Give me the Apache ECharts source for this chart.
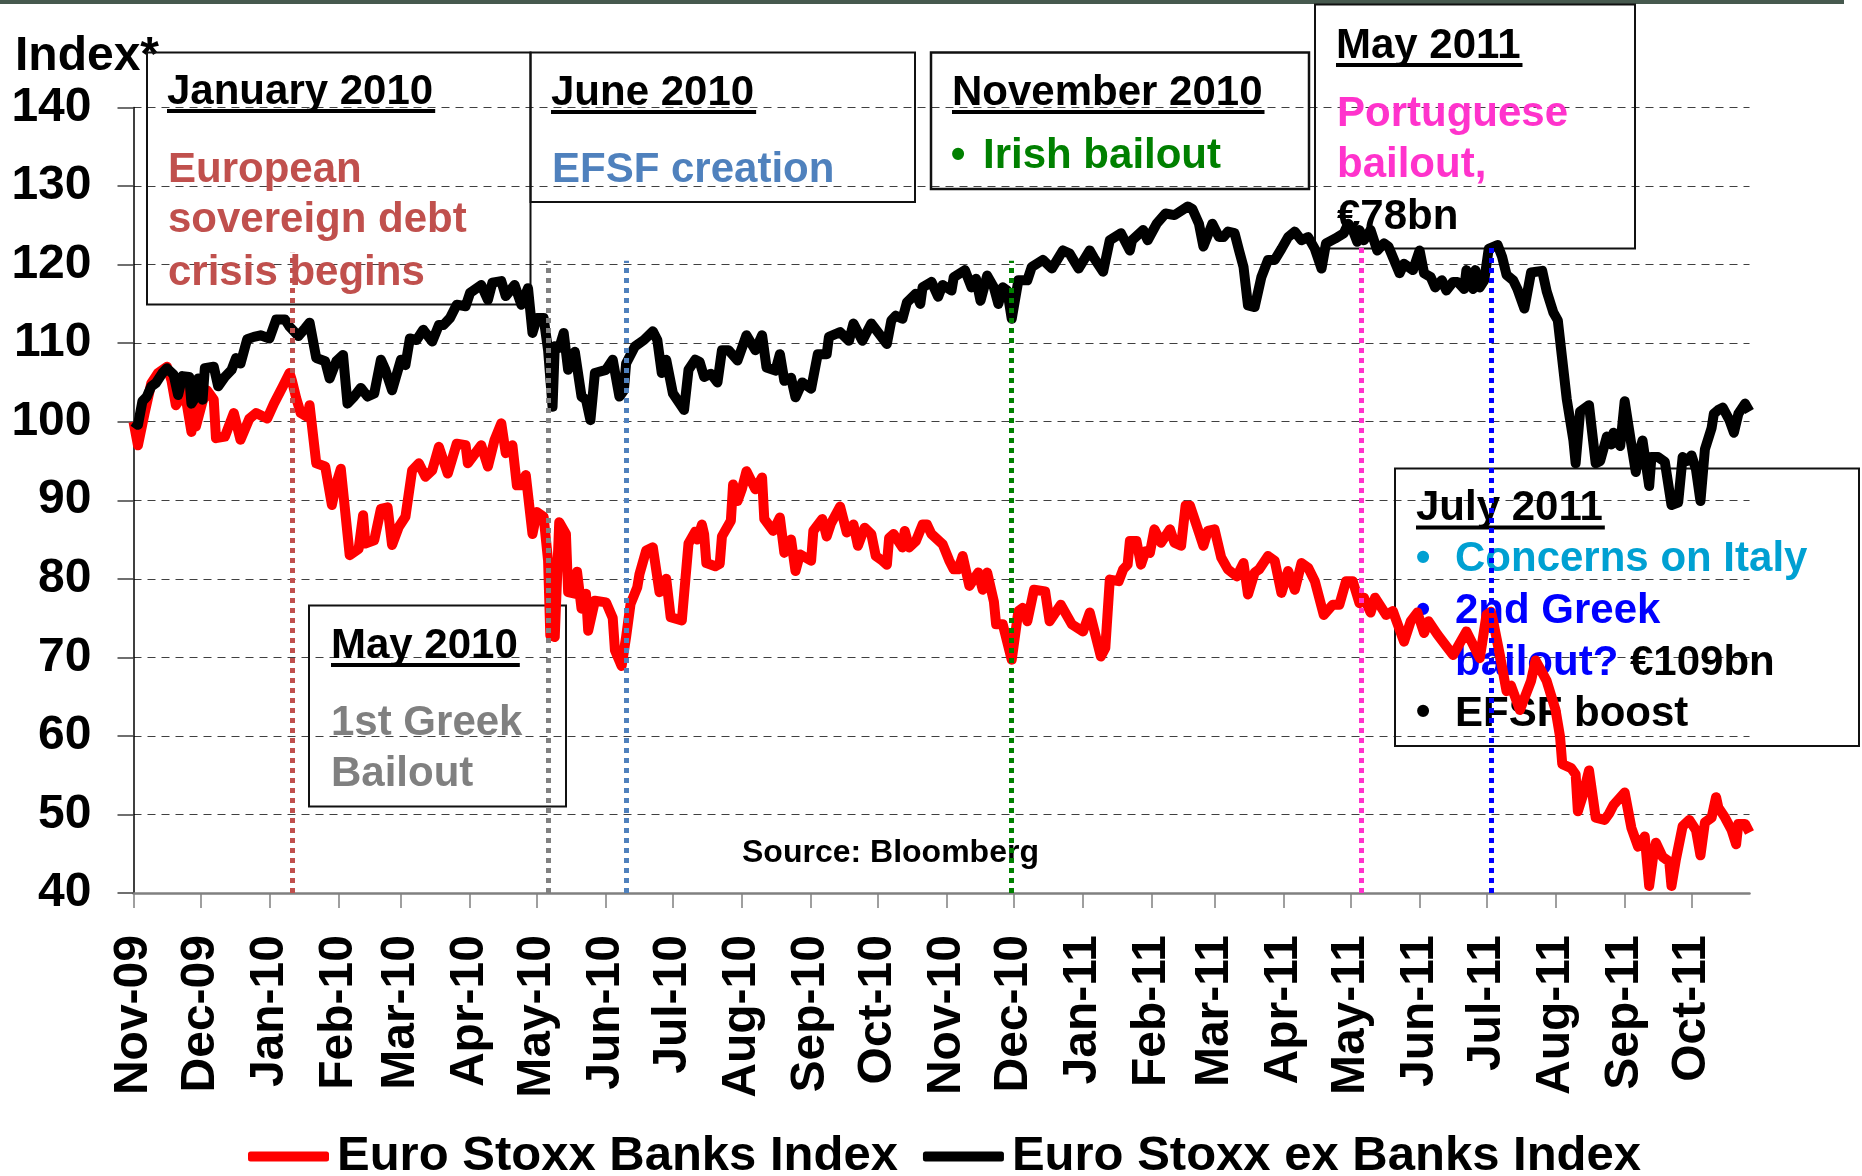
<!DOCTYPE html>
<html><head><meta charset="utf-8">
<script src="https://cdn.jsdelivr.net/npm/echarts@6/dist/echarts.min.js"></script>
<style>html,body{margin:0;padding:0;background:#fff}#c{width:1862px;height:1176px}</style>
</head><body><div id="c"></div>
<script>
// ---------- DATA ----------
// day offsets are counted from 1 Nov 2009
const monthTicks = ['2009-11-01','2009-12-01','2010-01-01','2010-02-01','2010-03-01','2010-04-01','2010-05-01','2010-06-01','2010-07-01','2010-08-01','2010-09-01','2010-10-01','2010-11-01','2010-12-01','2011-01-01','2011-02-01','2011-03-01','2011-04-01','2011-05-01','2011-06-01','2011-07-01','2011-08-01','2011-09-01','2011-10-01'];
const monthLabels = ['Nov-09','Dec-09','Jan-10','Feb-10','Mar-10','Apr-10','May-10','Jun-10','Jul-10','Aug-10','Sep-10','Oct-10','Nov-10','Dec-10','Jan-11','Feb-11','Mar-11','Apr-11','May-11','Jun-11','Jul-11','Aug-11','Sep-11','Oct-11'];
const axisStart = '2009-11-01';
const axisEnd = '2011-10-27';

const banksData = [[0,100],[2,97],[5,101.1],[8,104.9],[11,106.2],[15,107],[17,105.3],[19,102.1],[23,103.8],[26,98.7],[27,101.9],[28,99.4],[31,102.6],[33,104],[36,102.8],[37,97.9],[41,98.1],[45,101.1],[48,97.7],[52,100.4],[55,101.1],[60,100.4],[63,102.3],[67,104.5],[70,106.2],[71,105.3],[73,103],[75,101.1],[78,100.6],[79,102.1],[82,94.7],[86,94.3],[89,89.4],[91,92.1],[93,94],[97,83],[101,83.8],[103,88.1],[104,84.5],[108,84.9],[111,88.9],[114,89.1],[116,84.3],[119,86.6],[122,87.9],[125,93.8],[128,94.7],[131,93],[134,93.8],[137,96.8],[141,93.4],[145,97.2],[149,97],[150,94.7],[156,97],[159,94.3],[162,97.7],[165,99.8],[167,96],[170,97],[172,91.9],[174,91.9],[176,93.2],[179,85.7],[181,88.5],[184,87.9],[186,82.3],[187,72.8],[189,72.6],[191,87.2],[194,85.7],[195,78.3],[198,78.1],[199,80.9],[201,76.2],[203,78.1],[204,73.4],[207,77.2],[212,77],[215,75],[216,70.9],[219,68.9],[221,72.6],[223,76.8],[226,78.9],[227,80.6],[230,83.6],[233,84],[236,78.3],[239,80],[241,75.1],[246,74.7],[249,84.5],[252,86],[253,85],[255,86.9],[256,85.7],[257,82],[261,81.6],[263,81.9],[264,85.4],[268,87.4],[269,92],[271,89.9],[273,91.5],[275,93.7],[279,91.4],[282,92.9],[283,87.6],[287,86.1],[290,87.8],[292,83.3],[295,85],[297,81],[299,83.1],[304,82.3],[305,86.1],[309,87.6],[311,85.4],[313,87.1],[317,89.2],[320,85.9],[323,86.9],[325,84.2],[328,86.5],[331,85.7],[333,82.9],[336,82.3],[338,81.8],[339,85.2],[341,85.7],[345,84],[346,86.1],[348,84],[351,84.8],[354,86.9],[356,86.9],[358,85.7],[363,84.4],[366,82.3],[368,81.2],[370,81.2],[372,82.9],[375,79.1],[379,80.8],[381,78.6],[383,80.8],[386,77.1],[387,74.2],[390,74.2],[394,69.7],[397,75.9],[399,76.3],[401,74.6],[404,78.6],[409,78.4],[411,74.6],[416,76.7],[421,74.2],[426,73.3],[429,75.7],[434,70.1],[436,71.2],[438,79.9],[442,79.7],[444,81.2],[446,81.8],[447,84.8],[450,84.8],[452,81.8],[454,83.5],[456,83.3],[458,86.3],[461,84.6],[465,86.3],[467,84.6],[470,84.2],[472,89.3],[474,89.3],[478,85.9],[480,84.2],[482,86.1],[485,86.3],[488,82.7],[491,81.2],[495,80.3],[498,82],[500,78],[503,80.8],[505,81.2],[509,82.9],[512,82.3],[515,78.2],[518,81],[521,78.6],[524,82],[527,81.4],[530,79.7],[534,75.4],[538,76.7],[541,76.7],[544,79.7],[547,79.7],[550,76.9],[552,77.6],[555,75.7],[557,77.6],[562,75.4],[565,75.9],[570,72],[573,74.6],[576,75.7],[579,73.1],[581,74.6],[585,72.9],[589,71.4],[592,70.3],[598,73.3],[604,69.9],[607,75.4],[609,75.8],[610,74.6],[613,70.3],[616,65.7],[618,66.4],[622,63.3],[627,67],[629,69.6],[631,68.6],[634,67],[638,63.3],[640,59.9],[641,56.4],[645,55.9],[647,55.1],[648,50.4],[650,52.2],[653,55.6],[656,49.6],[660,49.3],[662,50.1],[664,51.2],[669,52.8],[672,48.3],[675,45.9],[678,47.2],[680,40.9],[682,45.1],[683,46.4],[686,44.6],[689,44],[690,40.9],[692,44.3],[695,48.5],[698,49.3],[701,48],[703,44.8],[705,49],[708,49.6],[710,52.2],[711,50.9],[714,49.6],[717,48],[719,46.2],[720,48.8],[723,48.8],[725,47.7]];

const exBanksData = [[0,100],[2,99.6],[4,102.6],[6,103.2],[8,104.5],[10,104.9],[13,106.2],[15,106.8],[18,106],[20,103.4],[22,105.8],[25,105.7],[26,102.3],[28,103.2],[29,105.5],[31,102.8],[32,106.8],[36,107],[38,104.5],[41,105.7],[44,106.6],[46,108.1],[48,107.4],[51,110.5],[54,110.8],[57,111],[61,110.6],[64,113],[68,113],[70,112.1],[74,110.9],[77,111.9],[79,112.6],[82,108.1],[86,107.7],[88,105.5],[91,107.7],[94,108.5],[96,102.3],[99,103.2],[102,104.3],[105,103.2],[108,103.6],[111,107.9],[113,106.6],[116,104],[120,107.9],[122,107.2],[124,110.6],[127,110.4],[130,111.7],[134,110.2],[137,112.3],[139,112.3],[142,113.2],[145,114.9],[149,114.7],[151,116.4],[156,117.4],[159,115.5],[161,117.7],[165,117.9],[167,116],[171,117.4],[174,114.9],[177,117],[179,111.3],[181,113.2],[184,113.2],[186,109.1],[188,101.9],[189,109.6],[191,109.4],[193,111.3],[195,106.6],[198,108.9],[201,103.2],[203,102.8],[205,100.2],[207,106.2],[212,106.6],[215,107.9],[218,103.2],[220,104],[221,107.4],[225,109.6],[229,110.4],[233,111.5],[235,110.4],[237,106.2],[239,107.9],[242,103.6],[247,101.5],[249,106.6],[252,107.9],[254,107.6],[256,105.7],[259,106.1],[262,105],[264,109.1],[267,109.1],[271,107.8],[275,111],[279,109.1],[282,111],[284,106.9],[288,106.5],[290,108.6],[292,105.2],[295,105.6],[297,103.1],[300,105],[304,104.2],[307,108.6],[311,108.6],[312,110.8],[317,111.4],[321,110.3],[323,112.5],[327,110.3],[331,112.5],[338,109.9],[340,112.9],[342,113.5],[345,113.1],[347,115.2],[351,116.3],[353,115],[354,117.1],[358,117.8],[361,115.9],[363,117.4],[367,116.7],[368,118.4],[373,119.3],[376,117.1],[378,118.2],[380,115.4],[383,118.6],[386,117.1],[388,115],[390,117.1],[392,116.7],[394,113.1],[397,118],[401,118],[403,119.7],[408,120.6],[412,119.5],[417,121.8],[420,121.4],[424,119.5],[429,121.8],[431,120.8],[435,119.1],[438,123.1],[443,124],[447,121.8],[448,123.1],[453,124.4],[455,123.1],[459,125.2],[463,126.5],[467,126.3],[473,127.4],[475,127.1],[478,125.2],[480,122.3],[484,125.2],[487,123.5],[489,123.5],[491,124.2],[494,124],[496,121.8],[498,119.7],[500,114.8],[503,114.6],[506,118.4],[509,120.6],[512,120.6],[515,122],[518,123.5],[521,124.2],[524,123.1],[527,123.5],[530,122],[533,119.5],[535,122.7],[539,123.3],[543,124],[545,125.2],[547,124.4],[549,122.9],[550,124.4],[552,123.1],[555,124.4],[558,121.8],[561,122.7],[563,122.3],[568,118.9],[570,120.1],[574,119.3],[577,121.8],[579,118.9],[582,118.4],[584,117.1],[587,118],[589,116.7],[592,117.8],[594,117.8],[597,116.9],[598,119.3],[601,116.9],[602,119.3],[604,117.1],[606,118],[608,122],[612,122.5],[614,121],[616,118.7],[619,118],[621,116.8],[624,114.4],[627,119],[632,119.2],[634,116.6],[637,113.9],[639,112.9],[641,107.9],[643,102.9],[646,97.6],[647,94.7],[649,101.3],[653,102.1],[656,94.7],[658,95],[661,98.1],[663,97.1],[664,98.6],[667,96.9],[669,102.6],[672,97.1],[674,93.6],[675,95.5],[677,97.6],[680,91.8],[681,95.5],[684,95.5],[687,94.9],[690,89.4],[693,89.7],[695,95.5],[697,95],[699,95.7],[701,93.9],[703,89.9],[705,96.5],[708,99.2],[709,101],[711,101.5],[713,101.8],[716,100.2],[718,98.6],[720,101],[723,102.3],[725,101.3]];

const seriesNames = ['Euro Stoxx Banks Index', 'Euro Stoxx ex Banks Index'];
const eventDates = ['2010-01-11','2010-05-06','2010-06-10','2010-11-30','2011-05-06','2011-07-03'];
const eventTops = [121.5, 120.5, 120.5, 120.5, 122.3, 122.3];
const yMin = 40, yMax = 140, yStep = 10;

// ---------- STYLE / HELPERS ----------
const FONT = '"Liberation Sans", Arial, Helvetica, sans-serif';
const LINE_W = 10;
const eventColors = ['#c0504d','#808080','#4f81bd','#008000','#ff33cc','#0000ff'];
function toTs(s){ const p = s.split('-').map(Number); return new Date(p[0], p[1]-1, p[2]).getTime(); }
function dayTs(n){ return new Date(2009, 10, 1 + n).getTime(); }
const tickTs = monthTicks.map(toTs);
const labelMap = {}; tickTs.forEach(function(t,i){ labelMap[t] = monthLabels[i]; });
function tickLabel(v){
  if (labelMap[v] !== undefined) return labelMap[v];
  for (let i = 0; i < tickTs.length; i++) { if (Math.abs(tickTs[i] - v) < 3600000 * 2) return monthLabels[i]; }
  return '';
}

const mctx = document.createElement('canvas').getContext('2d');
function tw(text, size){ mctx.font = 'bold ' + size + 'px ' + FONT; return mctx.measureText(text).width; }

const DY = 3;
const G = [];
function rect(x,y,w,h,lw){ G.push({type:'rect', z:1, shape:{x:x,y:y,width:w,height:h}, style:{fill:'none', stroke:'#111', lineWidth:lw||2}}); }
function txt(x,y,text,color,size,align){
  size = size || 42;
  G.push({type:'text', z:1, x:x, y:y+DY, style:{text:text, fill:color, font:'bold '+size+'px '+FONT,
    textAlign:align||'left', textVerticalAlign:'middle', align:align||'left', verticalAlign:'middle'}});
}
function title(x,y,text){
  txt(x,y,text,'#000',42);
  G.push({type:'rect', z:1, shape:{x:x, y:y+20, width:tw(text,42)+2, height:4}, style:{fill:'#000'}});
}

G.push({type:'rect', z:1, shape:{x:0,y:0,width:1844,height:4}, style:{fill:'#46594e'}});
txt(15, 54, 'Index*', '#000', 48);
rect(147, 52.5, 383.5, 252);
title(167, 89, 'January 2010');
txt(168, 167, 'European', '#c0504d');
txt(168, 217, 'sovereign debt', '#c0504d');
txt(168, 270, 'crisis begins', '#c0504d');
rect(530.5, 52.5, 384.5, 149.5);
title(551, 90, 'June 2010');
txt(552, 167, 'EFSF creation', '#4f81bd');
rect(931, 52.5, 378, 136.5, 2.5);
title(952, 90, 'November 2010');
txt(958, 153, '•', '#008000', 42, 'center');
txt(983, 153, 'Irish bailout', '#008000');
rect(1315, 4.5, 320, 244);
title(1336, 43, 'May 2011');
txt(1337, 111, 'Portuguese', '#ff33cc');
txt(1337, 162, 'bailout,', '#ff33cc');
txt(1337, 214, '€78bn', '#000');
rect(1395, 468.5, 464, 277.5);
title(1416, 505.5, 'July 2011');
txt(1423, 556, '•', '#00a0d2', 42, 'center');
txt(1455, 556, 'Concerns on Italy', '#00a0d2');
txt(1423, 608, '•', '#0000ff', 42, 'center');
txt(1455, 608.5, '2nd Greek', '#0000ff');
txt(1455, 660, 'bailout?', '#0000ff');
txt(1455 + tw('bailout? ', 42), 660, '€109bn', '#000');
txt(1423, 710, '•', '#000', 42, 'center');
txt(1455, 711, 'EFSF boost', '#000');
rect(309, 605.5, 257, 201);
title(331, 643, 'May 2010');
txt(331, 720, '1st Greek', '#808080');
txt(331, 771.5, 'Bailout', '#808080');
txt(742, 850, 'Source: Bloomberg', '#000', 32);

const chart = echarts.init(document.getElementById('c'), null, {renderer:'canvas'});
chart.setOption({
  animation: false,
  backgroundColor: '#fff',
  grid: {left: 133.5, right: 112.5, top: 107.5, bottom: 283, containLabel: false},
  xAxis: {
    type: 'value', min: toTs(axisStart), max: toTs(axisEnd), scale: true,
    axisLine: {show: true, lineStyle: {color: '#808080', width: 2.5}},
    axisTick: {show: true, length: 15, lineStyle: {color: '#808080', width: 1.5}, customValues: tickTs},
    axisLabel: {show: true, rotate: 90, margin: 42, fontSize: 48, fontWeight: 'bold', fontFamily: FONT, color: '#000',
      customValues: tickTs, formatter: tickLabel},
    splitLine: {show: false},
    minorTick: {show: false}
  },
  yAxis: {
    type: 'value', min: yMin, max: yMax, interval: yStep,
    axisLine: {show: true, lineStyle: {color: '#000', width: 1.5}},
    axisTick: {show: true, length: 16, lineStyle: {color: '#404040', width: 1.5}},
    axisLabel: {margin: 42, fontSize: 48, fontWeight: 'bold', fontFamily: FONT, color: '#000'},
    splitLine: {show: true, lineStyle: {color: '#404040', width: 1.2, type: [8, 6]}}
  },
  legend: {
    left: 243, top: 1127, icon: 'roundRect', itemWidth: 81, itemHeight: 10, itemGap: 25,
    textStyle: {fontSize: 49, fontWeight: 'bold', fontFamily: FONT, color: '#000', padding: [0,0,0,3]},
    data: seriesNames
  },
  series: [
    {name: seriesNames[0], type: 'line', symbol: 'none', showSymbol: false, z: 2,
     lineStyle: {color: '#ff0000', width: LINE_W, join: 'round'}, itemStyle: {color: '#ff0000'},
     data: banksData.map(function(p){ return [dayTs(p[0]), p[1]]; })},
    {name: seriesNames[1], type: 'line', symbol: 'none', showSymbol: false, z: 2,
     lineStyle: {color: '#000000', width: LINE_W, join: 'round'}, itemStyle: {color: '#000000'},
     data: exBanksData.map(function(p){ return [dayTs(p[0]), p[1]]; }),
     markLine: {silent: true, symbol: ['none','none'], animation: false, label: {show: false},
       lineStyle: {type: [5,5], width: 5},
       data: eventDates.map(function(d,i){
         const ls = {color: eventColors[i], type: [5,5], width: 5};
         return [{coord: [toTs(d), yMin], lineStyle: ls}, {coord: [toTs(d), eventTops[i]], lineStyle: ls}];
       })}
    }
  ],
  graphic: G
});
</script>
</body></html>
